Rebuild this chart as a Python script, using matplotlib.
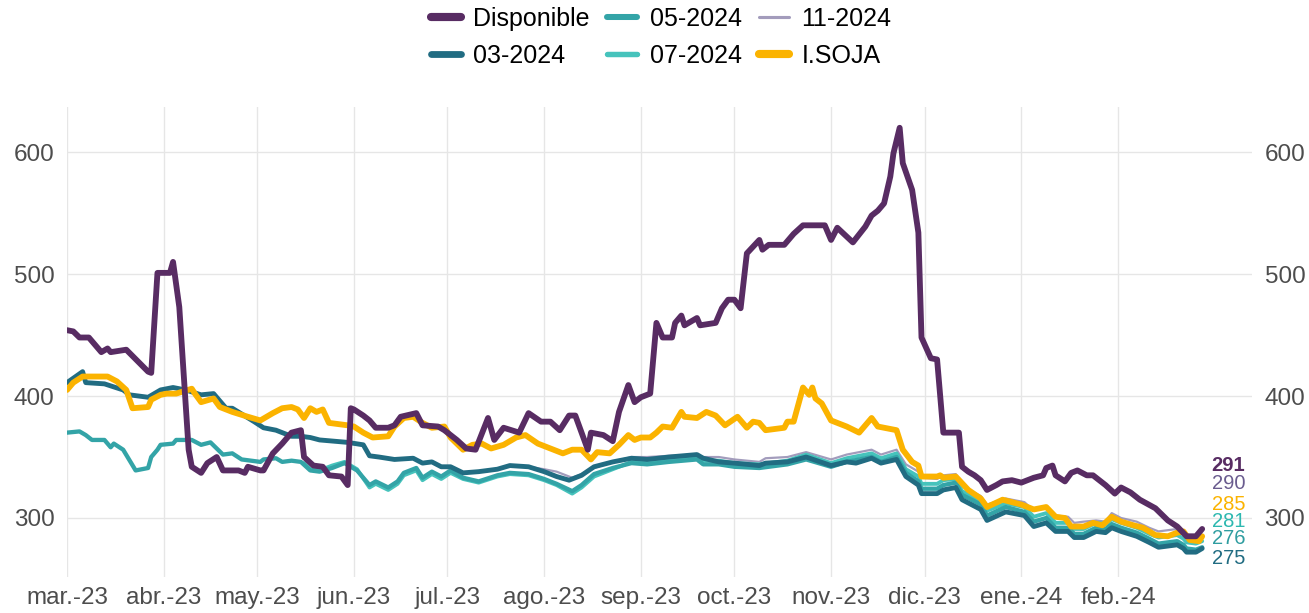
import matplotlib
matplotlib.use('Agg')
import matplotlib.pyplot as plt
import pandas as pd

plt.rcParams['font.family'] = ['Liberation Sans', 'DejaVu Sans']

# ---- data ----
disp_dates = ['2023-03-01', '2023-03-03', '2023-03-05', '2023-03-08', '2023-03-12', '2023-03-14', '2023-03-15',
              '2023-03-20', '2023-03-27', '2023-03-28', '2023-03-30', '2023-04-03', '2023-04-04', '2023-04-06',
              '2023-04-09', '2023-04-10', '2023-04-13', '2023-04-15', '2023-04-18', '2023-04-20', '2023-04-25',
              '2023-04-27', '2023-04-28', '2023-05-02', '2023-05-03', '2023-05-06', '2023-05-09', '2023-05-12',
              '2023-05-15', '2023-05-16', '2023-05-19', '2023-05-22', '2023-05-24', '2023-05-28', '2023-05-30',
              '2023-05-31', '2023-06-01', '2023-06-04', '2023-06-06', '2023-06-08', '2023-06-12', '2023-06-14',
              '2023-06-16', '2023-06-21', '2023-06-23', '2023-06-28', '2023-06-30', '2023-07-04', '2023-07-07',
              '2023-07-10', '2023-07-14', '2023-07-16', '2023-07-19', '2023-07-24', '2023-07-27', '2023-07-31',
              '2023-08-03', '2023-08-06', '2023-08-09', '2023-08-11', '2023-08-15', '2023-08-16', '2023-08-20',
              '2023-08-23', '2023-08-25', '2023-08-28', '2023-08-30', '2023-09-01', '2023-09-04', '2023-09-06',
              '2023-09-08', '2023-09-11', '2023-09-12', '2023-09-14', '2023-09-15', '2023-09-19', '2023-09-20',
              '2023-09-25', '2023-09-27', '2023-09-29', '2023-10-01', '2023-10-03', '2023-10-05', '2023-10-09',
              '2023-10-10', '2023-10-12', '2023-10-17', '2023-10-20', '2023-10-23', '2023-10-30', '2023-11-01',
              '2023-11-03', '2023-11-08', '2023-11-12', '2023-11-14', '2023-11-16', '2023-11-18', '2023-11-20',
              '2023-11-21', '2023-11-23', '2023-11-24', '2023-11-27', '2023-11-29', '2023-11-30', '2023-12-03',
              '2023-12-05', '2023-12-07', '2023-12-12', '2023-12-13', '2023-12-15', '2023-12-17', '2023-12-19',
              '2023-12-21', '2023-12-24', '2023-12-26', '2023-12-29', '2024-01-01', '2024-01-05', '2024-01-08',
              '2024-01-09', '2024-01-11', '2024-01-12', '2024-01-15', '2024-01-17', '2024-01-19', '2024-01-22',
              '2024-01-24', '2024-01-28', '2024-01-31', '2024-02-02', '2024-02-05', '2024-02-08', '2024-02-13',
              '2024-02-17', '2024-02-20', '2024-02-23', '2024-02-26', '2024-02-28']
disp_vals = [454, 453, 448, 448, 436, 439, 436,
             438, 420, 419, 501, 501, 510, 473,
             356, 342, 337, 345, 350, 339, 339,
             337, 342, 339, 339, 353, 361, 370,
             372, 350, 343, 342, 335, 334, 327,
             390, 389, 384, 380, 374, 374, 376,
             383, 386, 376, 375, 372, 364, 357,
             356, 382, 364, 374, 370, 386, 379,
             379, 372, 384, 384, 356, 370, 368,
             363, 387, 409, 395, 399, 402, 460,
             448, 448, 460, 466, 458, 464, 458,
             460, 472, 479, 479, 472, 517, 528,
             520, 524, 524, 533, 540, 540, 528,
             538, 526, 539, 548, 552, 558, 580,
             599, 620, 591, 569, 534, 448, 431,
             430, 370, 370, 342, 338, 335, 331,
             323, 327, 330, 331, 329, 333, 335,
             341, 343, 335, 330, 337, 339, 335,
             335, 327, 320, 325, 321, 315, 308,
             298, 293, 285, 285, 291]

soja_dates = ['2023-03-01', '2023-03-03', '2023-03-06', '2023-03-14', '2023-03-17', '2023-03-20', '2023-03-22',
              '2023-03-27', '2023-03-28', '2023-03-31', '2023-04-02', '2023-04-05', '2023-04-10', '2023-04-11',
              '2023-04-13', '2023-04-17', '2023-04-19', '2023-04-23', '2023-04-28', '2023-05-02', '2023-05-06',
              '2023-05-09', '2023-05-12', '2023-05-14', '2023-05-16', '2023-05-18', '2023-05-20', '2023-05-22',
              '2023-05-24', '2023-05-30', '2023-06-01', '2023-06-04', '2023-06-07', '2023-06-12', '2023-06-14',
              '2023-06-17', '2023-06-20', '2023-06-23', '2023-06-26', '2023-06-30', '2023-07-02', '2023-07-06',
              '2023-07-09', '2023-07-12', '2023-07-15', '2023-07-19', '2023-07-23', '2023-07-26', '2023-07-30',
              '2023-08-03', '2023-08-07', '2023-08-10', '2023-08-13', '2023-08-16', '2023-08-18', '2023-08-22',
              '2023-08-25', '2023-08-28', '2023-08-30', '2023-09-01', '2023-09-04', '2023-09-06', '2023-09-08',
              '2023-09-11', '2023-09-14', '2023-09-15', '2023-09-19', '2023-09-22', '2023-09-25', '2023-09-28',
              '2023-10-02', '2023-10-05', '2023-10-07', '2023-10-09', '2023-10-11', '2023-10-17', '2023-10-18',
              '2023-10-20', '2023-10-23', '2023-10-25', '2023-10-26', '2023-10-27', '2023-10-29', '2023-11-01',
              '2023-11-03', '2023-11-06', '2023-11-10', '2023-11-14', '2023-11-16', '2023-11-22', '2023-11-24',
              '2023-11-27', '2023-11-29', '2023-11-30', '2023-12-05', '2023-12-06', '2023-12-07', '2023-12-11',
              '2023-12-15', '2023-12-19', '2023-12-21', '2023-12-26', '2024-01-01', '2024-01-05', '2024-01-09',
              '2024-01-12', '2024-01-15', '2024-01-17', '2024-01-21', '2024-01-24', '2024-01-27', '2024-01-30',
              '2024-02-02', '2024-02-06', '2024-02-09', '2024-02-13', '2024-02-17', '2024-02-20', '2024-02-22',
              '2024-02-24', '2024-02-27', '2024-02-28']
soja_vals = [405, 411, 416, 416, 412, 405, 390,
             391, 397, 401, 402, 402, 406, 402,
             395, 398, 391, 387, 383, 380, 386,
             390, 391, 389, 382, 390, 387, 389,
             378, 376, 375, 370, 366, 367, 375,
             382, 383, 378, 374, 375, 366, 356,
             360, 361, 357, 360, 366, 368, 361,
             357, 353, 356, 356, 348, 354, 353,
             360, 368, 364, 366, 366, 370, 375,
             374, 387, 383, 382, 387, 384, 376,
             383, 374, 379, 378, 372, 374, 379,
             379, 407, 401, 407, 398, 394, 380,
             378, 375, 370, 382, 375, 372, 356,
             346, 343, 334, 334, 335, 333, 334,
             323, 316, 309, 315, 311, 307, 309,
             301, 300, 293, 293, 296, 294, 301,
             297, 294, 292, 286, 285, 288, 289,
             282, 281, 285]

f03_dates = ['2023-03-01', '2023-03-06', '2023-03-07', '2023-03-13', '2023-03-19', '2023-03-21', '2023-03-27',
             '2023-03-31', '2023-04-04', '2023-04-08', '2023-04-13', '2023-04-17', '2023-04-21', '2023-04-23',
             '2023-04-30', '2023-05-03', '2023-05-07', '2023-05-12', '2023-05-15', '2023-05-18', '2023-05-21',
             '2023-05-30', '2023-06-04', '2023-06-06', '2023-06-09', '2023-06-14', '2023-06-20', '2023-06-23',
             '2023-06-26', '2023-06-29', '2023-07-02', '2023-07-06', '2023-07-11', '2023-07-17', '2023-07-21',
             '2023-07-27', '2023-08-01', '2023-08-05', '2023-08-09', '2023-08-13', '2023-08-17', '2023-08-23',
             '2023-08-29', '2023-09-03', '2023-09-10', '2023-09-19', '2023-09-21', '2023-09-26', '2023-10-01',
             '2023-10-09', '2023-10-11', '2023-10-18', '2023-10-24', '2023-11-01', '2023-11-06', '2023-11-09',
             '2023-11-14', '2023-11-17', '2023-11-22', '2023-11-25', '2023-11-29', '2023-11-30', '2023-12-05',
             '2023-12-07', '2023-12-11', '2023-12-13', '2023-12-19', '2023-12-21', '2023-12-27', '2024-01-02',
             '2024-01-05', '2024-01-09', '2024-01-12', '2024-01-16', '2024-01-18', '2024-01-21', '2024-01-25',
             '2024-01-28', '2024-01-30', '2024-02-02', '2024-02-07', '2024-02-11', '2024-02-14', '2024-02-20',
             '2024-02-22', '2024-02-23', '2024-02-26', '2024-02-28']
f03_vals = [411, 420, 411, 410, 405, 401, 399,
            405, 407, 405, 401, 402, 390, 390,
            379, 374, 372, 367, 367, 366, 364,
            362, 360, 351, 350, 348, 349, 345,
            346, 342, 342, 337, 338, 340, 343,
            342, 338, 334, 331, 335, 342, 346,
            349, 348, 350, 352, 349, 346, 345,
            343, 345, 346, 350, 343, 346, 345,
            349, 345, 348, 334, 327, 320, 320,
            323, 325, 315, 307, 298, 305, 302,
            293, 296, 289, 289, 284, 284, 289,
            288, 292, 289, 285, 280, 276, 278,
            275, 272, 272, 275]

f05_dates = ['2023-03-01', '2023-03-05', '2023-03-07', '2023-03-09', '2023-03-13', '2023-03-15', '2023-03-16',
             '2023-03-19', '2023-03-23', '2023-03-27', '2023-03-28', '2023-03-30', '2023-03-31', '2023-04-04',
             '2023-04-05', '2023-04-10', '2023-04-13', '2023-04-16', '2023-04-20', '2023-04-23', '2023-04-26',
             '2023-05-02', '2023-05-03', '2023-05-07', '2023-05-09', '2023-05-12', '2023-05-15', '2023-05-18',
             '2023-05-21', '2023-05-25', '2023-05-29', '2023-06-02', '2023-06-06', '2023-06-08', '2023-06-12',
             '2023-06-15', '2023-06-17', '2023-06-21', '2023-06-23', '2023-06-26', '2023-06-29', '2023-07-02',
             '2023-07-06', '2023-07-11', '2023-07-17', '2023-07-21', '2023-07-27', '2023-08-01', '2023-08-05',
             '2023-08-10', '2023-08-13', '2023-08-17', '2023-08-23', '2023-08-29', '2023-09-03', '2023-09-10',
             '2023-09-19', '2023-09-21', '2023-09-26', '2023-10-01', '2023-10-09', '2023-10-18', '2023-10-24',
             '2023-11-01', '2023-11-06', '2023-11-14', '2023-11-17', '2023-11-22', '2023-11-25', '2023-11-29',
             '2023-11-30', '2023-12-05', '2023-12-07', '2023-12-11', '2023-12-13', '2023-12-19', '2023-12-21',
             '2023-12-27', '2024-01-02', '2024-01-05', '2024-01-09', '2024-01-12', '2024-01-16', '2024-01-18',
             '2024-01-21', '2024-01-25', '2024-01-28', '2024-01-30', '2024-02-02', '2024-02-07', '2024-02-11',
             '2024-02-14', '2024-02-20', '2024-02-22', '2024-02-23', '2024-02-26', '2024-02-28']
f05_vals = [370, 371, 368, 364, 364, 358, 361,
            356, 339, 341, 350, 356, 360, 361,
            364, 364, 360, 362, 352, 353, 348,
            346, 348, 349, 346, 347, 346, 339,
            338, 341, 345, 339, 327, 330, 325,
            330, 337, 341, 333, 338, 334, 339,
            333, 330, 335, 337, 336, 332, 328,
            322, 327, 336, 341, 345, 344, 346,
            348, 344, 344, 342, 341, 344, 348,
            342, 346, 350, 346, 350, 337, 330,
            324, 324, 327, 329, 319, 311, 302,
            309, 305, 297, 300, 292, 292, 287,
            287, 292, 291, 295, 292, 288, 283,
            279, 281, 278, 275, 274, 276]

f07_dates = ['2023-05-16', '2023-05-18', '2023-05-21', '2023-05-25', '2023-05-29', '2023-06-02', '2023-06-06',
             '2023-06-08', '2023-06-12', '2023-06-15', '2023-06-17', '2023-06-21', '2023-06-23', '2023-06-26',
             '2023-06-29', '2023-07-02', '2023-07-06', '2023-07-11', '2023-07-17', '2023-07-21', '2023-07-27',
             '2023-08-01', '2023-08-05', '2023-08-10', '2023-08-13', '2023-08-17', '2023-08-23', '2023-08-29',
             '2023-09-03', '2023-09-10', '2023-09-19', '2023-09-21', '2023-09-26', '2023-10-01', '2023-10-09',
             '2023-10-18', '2023-10-24', '2023-11-01', '2023-11-06', '2023-11-14', '2023-11-17', '2023-11-22',
             '2023-11-25', '2023-11-29', '2023-11-30', '2023-12-05', '2023-12-07', '2023-12-11', '2023-12-13',
             '2023-12-19', '2023-12-21', '2023-12-27', '2024-01-02', '2024-01-05', '2024-01-09', '2024-01-12',
             '2024-01-16', '2024-01-18', '2024-01-21', '2024-01-25', '2024-01-28', '2024-01-30', '2024-02-02',
             '2024-02-07', '2024-02-11', '2024-02-14', '2024-02-20', '2024-02-22', '2024-02-23', '2024-02-26',
             '2024-02-28']
f07_vals = [345, 340, 339, 343, 346, 340, 325,
            328, 323, 328, 335, 339, 331, 336,
            332, 337, 332, 329, 334, 336, 335,
            331, 327, 320, 325, 334, 340, 346,
            346, 348, 350, 347, 347, 345, 344,
            347, 352, 345, 349, 353, 349, 353,
            340, 334, 328, 328, 331, 332, 322,
            314, 306, 312, 309, 301, 304, 296,
            296, 291, 291, 296, 295, 299, 296,
            292, 287, 284, 286, 283, 280, 279,
            281]

f11_dates = ['2023-07-27', '2023-08-01', '2023-08-05', '2023-08-10', '2023-08-13', '2023-08-17', '2023-08-23',
             '2023-08-29', '2023-09-03', '2023-09-10', '2023-09-19', '2023-09-21', '2023-09-26', '2023-10-01',
             '2023-10-09', '2023-10-11', '2023-10-18', '2023-10-24', '2023-11-01', '2023-11-06', '2023-11-14',
             '2023-11-17', '2023-11-22', '2023-11-25', '2023-11-29', '2023-11-30', '2023-12-05', '2023-12-07',
             '2023-12-11', '2023-12-13', '2023-12-19', '2023-12-21', '2023-12-27', '2024-01-02', '2024-01-05',
             '2024-01-09', '2024-01-12', '2024-01-16', '2024-01-18', '2024-01-21', '2024-01-25', '2024-01-28',
             '2024-01-30', '2024-02-02', '2024-02-07', '2024-02-11', '2024-02-14', '2024-02-20', '2024-02-22',
             '2024-02-23', '2024-02-26', '2024-02-28']
f11_vals = [342, 340, 338, 333, 336, 341, 346,
            350, 350, 351, 352, 350, 350, 348,
            346, 349, 350, 354, 348, 352, 356,
            352, 356, 344, 338, 333, 332, 335,
            336, 326, 318, 311, 316, 313, 306,
            309, 302, 301, 296, 297, 298, 297,
            304, 300, 297, 292, 289, 291, 289,
            286, 286, 290]

month_starts = ['2023-03-01', '2023-04-01', '2023-05-01', '2023-06-01', '2023-07-01', '2023-08-01',
                '2023-09-01', '2023-10-01', '2023-11-01', '2023-12-01', '2024-01-01', '2024-02-01']
month_labels = ['mar.-23', 'abr.-23', 'may.-23', 'jun.-23', 'jul.-23', 'ago.-23',
                'sep.-23', 'oct.-23', 'nov.-23', 'dic.-23', 'ene.-24', 'feb.-24']

# name, dates, values, color, linewidth, alpha  (drawing order)
series = [
    ('11-2024', f11_dates, f11_vals, '#8C84AC', 1.6, 0.8),
    ('07-2024', f07_dates, f07_vals, '#46C3BC', 2.8, 1.0),
    ('05-2024', f05_dates, f05_vals, '#33A4A7', 3.1, 1.0),
    ('03-2024', f03_dates, f03_vals, '#216C82', 3.5, 1.0),
    ('I.SOJA', soja_dates, soja_vals, '#FBB300', 4.2, 1.0),
    ('Disponible', disp_dates, disp_vals, '#582C63', 4.2, 1.0),
]
legend_order = ['Disponible', '03-2024', '05-2024', '07-2024', '11-2024', 'I.SOJA']

# end labels: series, color, bold, y position of the label (repelled)
end_labels = [('Disponible', '#582C63', True, 343),
              ('11-2024', '#6A5C8F', False, 328.5),
              ('I.SOJA', '#FBB300', False, 311),
              ('07-2024', '#2DB8B0', False, 297.5),
              ('05-2024', '#2F9DA0', False, 283),
              ('03-2024', '#216C82', False, 267)]

fig = plt.figure(figsize=(13.09, 6.13), dpi=100)
ax = fig.add_axes([0.0512, 0.0587, 0.9053, 0.7667])

handles = {}
last = {}
for name, d, v, c, lw, a in series:
    x = pd.to_datetime(d)
    ln, = ax.plot(x, v, color=c, lw=lw, alpha=a, solid_joinstyle='round', solid_capstyle='round')
    handles[name] = ln
    last[name] = (x[-1], v[-1])

for name, c, bold, ypos in end_labels:
    xe, ve = last[name]
    ax.text(xe + pd.Timedelta(days=3), ypos, str(ve), color=c, fontsize=14.5,
            fontweight='bold' if bold else 'normal', ha='left', va='center')

ax.set_xlim(pd.Timestamp('2023-03-01'), pd.Timestamp('2024-03-15'))
ax.set_ylim(251.6, 637)
ax.set_xticks(pd.to_datetime(month_starts))
ax.set_xticklabels(month_labels)
ax.set_yticks([300, 400, 500, 600])
ax.grid(True, color='#E6E6E6', lw=1.0)
ax.set_axisbelow(True)
for s in ax.spines.values():
    s.set_visible(False)
ax.tick_params(axis='both', length=0, labelsize=17.5, labelcolor='#4D4D4D')
ax.tick_params(axis='y', labelright=True, pad=9)
ax.tick_params(axis='x', pad=7)

leg = fig.legend([handles[n] for n in legend_order], legend_order, loc='upper center',
                 bbox_to_anchor=(0.505, 1.025), ncol=3, frameon=False, fontsize=18,
                 handlelength=1.2, handletextpad=0.5, columnspacing=0.7, labelspacing=0.5)
for h in leg.legend_handles:
    h.set_linewidth(h.get_linewidth() * 1.4)

fig.savefig('out.png', dpi=100)
